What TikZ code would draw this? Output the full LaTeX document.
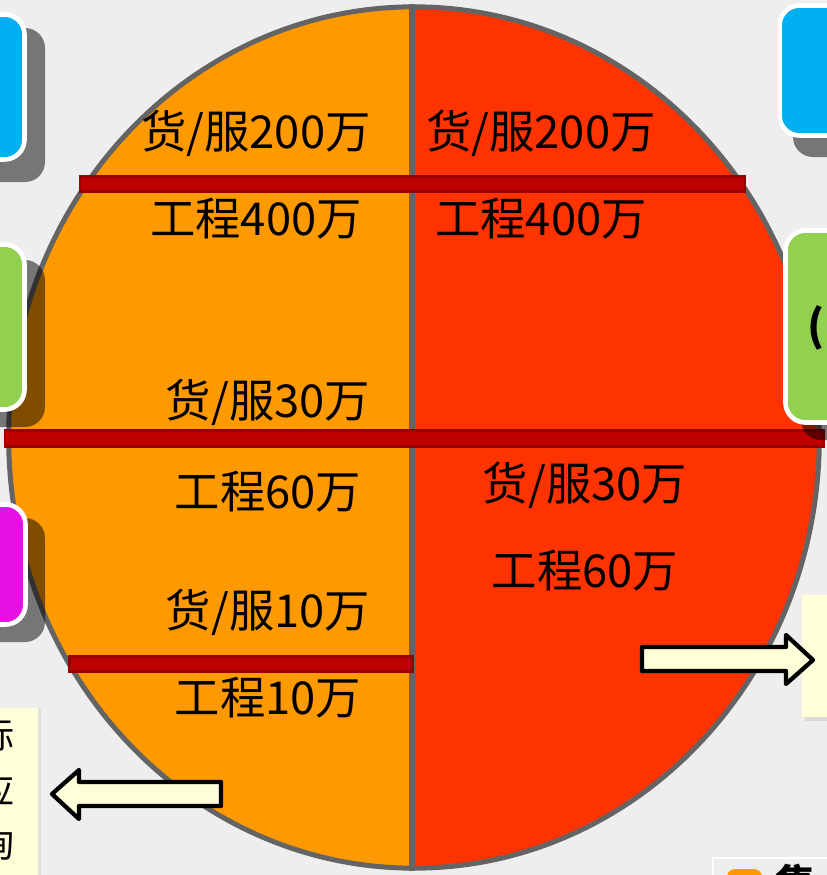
\documentclass[tikz,border=0pt]{standalone}
\usepackage{fontspec}
\newfontfamily\cjk{Noto Sans CJK SC}
\usetikzlibrary{shapes.geometric}
\definecolor{bg}{HTML}{EEEEEE}
\definecolor{goodsside}{HTML}{FF9900}
\definecolor{worksside}{HTML}{FF3300}
\definecolor{rim}{HTML}{646464}
\definecolor{barfill}{HTML}{C00000}
\definecolor{barline}{HTML}{990000}
\definecolor{tabblue}{HTML}{00B0F0}
\definecolor{tabgreen}{HTML}{92D050}
\definecolor{tabpink}{HTML}{E60FE6}
\definecolor{notefill}{HTML}{FFFFDA}

\begin{document}
\begin{tikzpicture}[x=0.75pt, y=-0.75pt,
  pie/.style={ellipse, draw=rim, line width=3.75pt, inner sep=0pt,
    minimum width=608pt, minimum height=646pt},
  bar/.style={draw=barline, fill=barfill, line width=2.2pt},
  tab/.style={draw=white, line width=3.5pt, rounded corners=15pt},
  shade/.style={fill=black, fill opacity=0.5, rounded corners=15pt},
  note/.style={fill=notefill},
  fat arrow/.style={draw=black, fill=notefill, line width=3.2pt, line join=round},
  amount/.style={font=\cjk\fontsize{34pt}{36pt}\selectfont, inner sep=0pt},
  node distance=64pt]
\useasboundingbox (0,0) rectangle (827,875);
\clip (0,0) rectangle (827,875);
\fill[bg] (0,0) rectangle (827,875);

% the two halves
\node[pie, path picture={
  \fill[goodsside] (path picture bounding box.north west) rectangle ([xshift=-0.5pt]path picture bounding box.south);
  \fill[worksside] ([xshift=-0.5pt]path picture bounding box.north) rectangle (path picture bounding box.south east);
}] (disc) at (414,437.5) {};
\draw[rim, line width=4.2pt] ([xshift=-1.5pt]disc.north) -- ([xshift=-1.5pt]disc.south);

% thresholds
\draw[bar] (80,176.5) rectangle (745,191.5);
\draw[bar] (5,430.5) rectangle (824,446.5);
\draw[bar] (69.5,656.5) rectangle (412.5,671.5);

% side tabs
\fill[shade] (-40,28) rectangle (45,182);
\fill[shade] (-40,260) rectangle (45,427);
\fill[shade] (-40,518) rectangle (45,642);
\fill[shade] (793,20) rectangle (870,157);
\fill[shade] (801,245) rectangle (870,440);
\draw[tab, fill=tabblue] (-40,14.5) rectangle (24.5,159.5);
\draw[tab, fill=tabgreen] (-40,244.5) rectangle (24.5,409.5);
\draw[tab, fill=tabpink] (-40,504.5) rectangle (25.5,624.5);
\draw[tab, fill=tabblue] (779.5,5.5) rectangle (870,135.5);
\draw[tab, fill=tabgreen] (785.5,230.5) rectangle (870,422.5);
\node[font=\cjk\bfseries\fontsize{32pt}{34pt}\selectfont, inner sep=0pt, anchor=west] (paren) at (807,328) {(};

% notes
\fill[black!15] (805,598) rectangle (870,721);
\fill[note] (802,595) rectangle (870,717);
\fill[black!12] (-20,708) rectangle (41,890);
\fill[note] (-20,708) rectangle (38,890);
\node[anchor=north east, align=right, inner sep=0pt,
  font=\cjk\fontsize{27pt}{41pt}\selectfont] (cut) at (15,718) {标\\应\\询};
\draw[white, line width=1.5pt, fill=bg] (713,858) rectangle (900,900);
\fill[goodsside, rounded corners=6pt] (727,869) rectangle (762,900);
\node[anchor=north west, inner sep=0pt, font=\cjk\bfseries\fontsize{30pt}{32pt}\selectfont] (tail) at (775,864) {集};

% arrows
\draw[fat arrow] (221,782) -- (79,782) -- (79,770) -- (52,794) -- (79,819) -- (79,806) -- (221,806) -- cycle;
\draw[fat arrow] (642,647) -- (786,647) -- (786,635) -- (813,660) -- (786,684) -- (786,671) -- (642,671) -- cycle;

% amounts
\node[amount] (gl1) at (256,133) {货/服200万};
\node[amount, below of=gl1] (wl1) {工程400万};
\node[amount] (gr1) at (541,133) {货/服200万};
\node[amount, below of=gr1] (wr1) {工程400万};
\node[amount] (gl2) at (268,402) {货/服30万};
\node[amount, below of=gl2, yshift=-3pt] (wl2) {工程60万};
\node[amount] (gr2) at (585,485) {货/服30万};
\node[amount, below of=gr2] (wr2) {工程60万};
\node[amount] (gl3) at (268,612) {货/服10万};
\node[amount, below of=gl3] (wl3) {工程10万};
\end{tikzpicture}
\end{document}
